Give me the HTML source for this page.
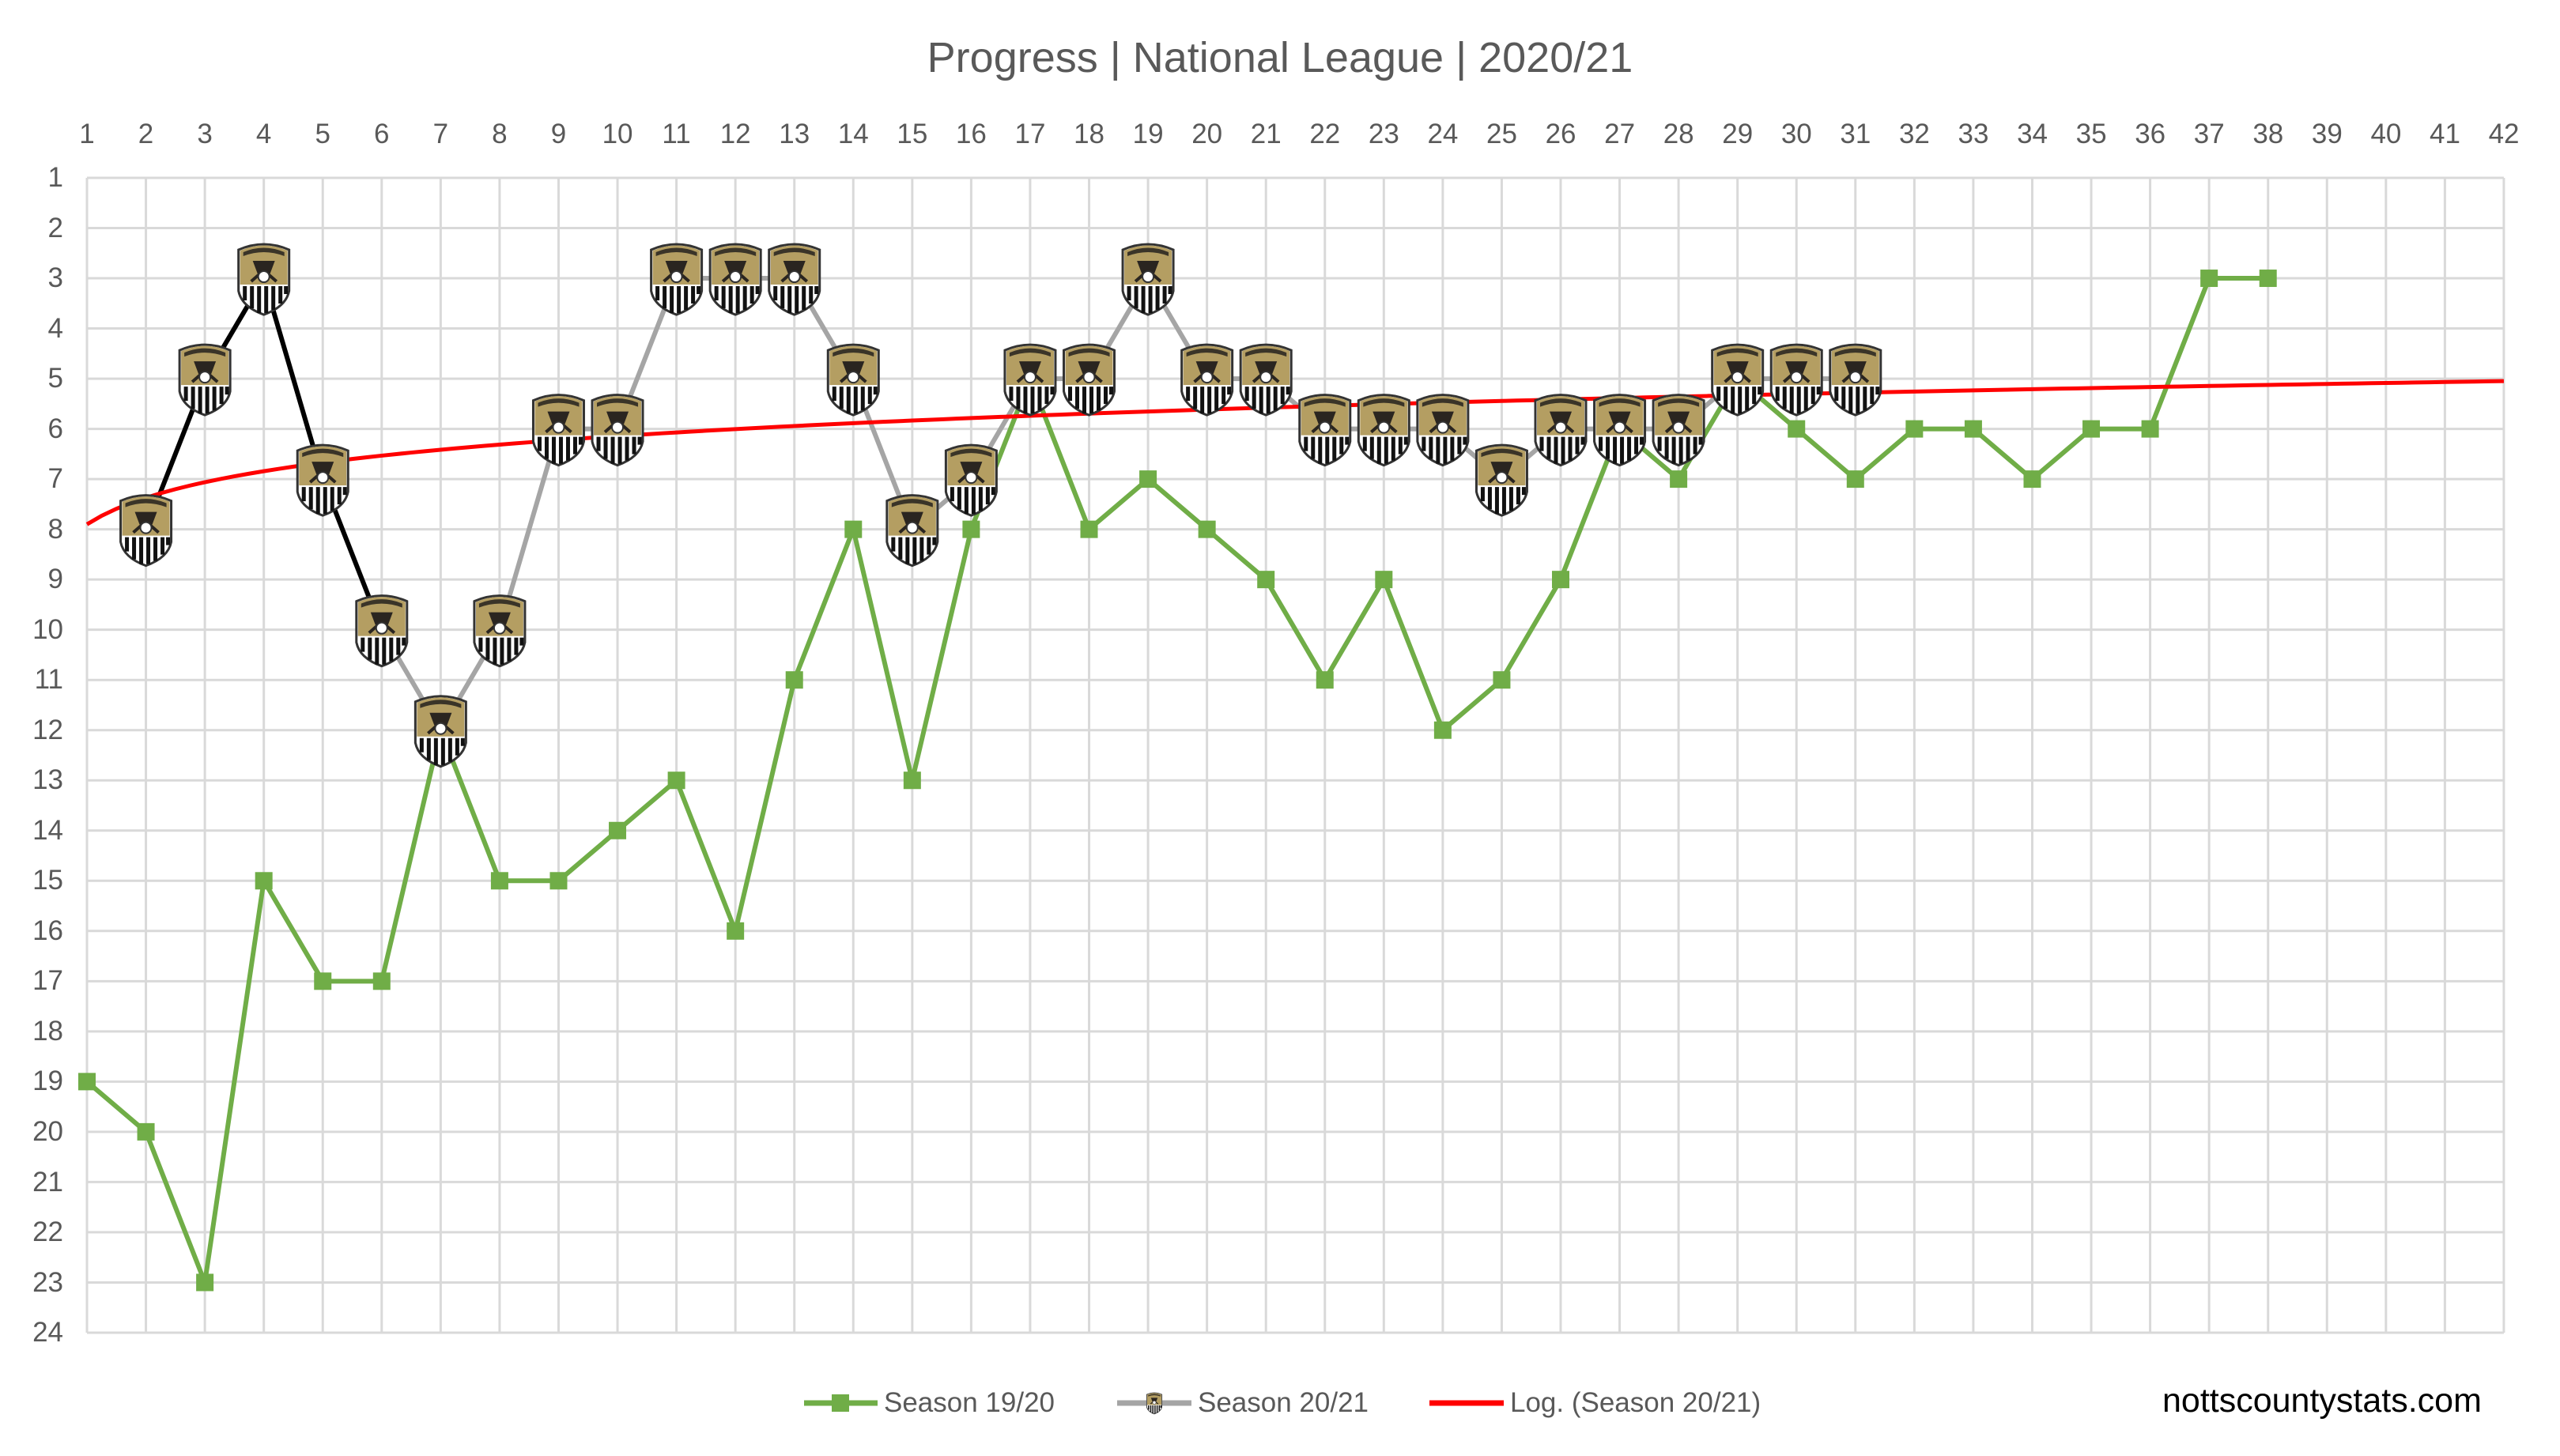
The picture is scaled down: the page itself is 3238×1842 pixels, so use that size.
<!DOCTYPE html>
<html><head><meta charset="utf-8"><style>
html,body{margin:0;padding:0;background:#fff;}
#c{position:relative;width:3238px;height:1842px;overflow:hidden;font-family:"Liberation Sans",sans-serif;color:#595959;}
.t{position:absolute;white-space:nowrap;}
#xl{position:absolute;left:72.7px;top:150px;width:3131.5px;display:flex;font-size:35px;}
#xl div{flex:1;text-align:center;}
#yl{position:absolute;left:20px;top:193.2px;width:60px;display:flex;flex-direction:column;font-size:35px;}
#yl div{height:63.52px;line-height:63.52px;text-align:right;}
</style></head><body><div id="c">
<div class="t" style="left:0;width:3238px;text-align:center;top:42px;font-size:54px;">Progress | National League | 2020/21</div>
<div id="xl"><div>1</div><div>2</div><div>3</div><div>4</div><div>5</div><div>6</div><div>7</div><div>8</div><div>9</div><div>10</div><div>11</div><div>12</div><div>13</div><div>14</div><div>15</div><div>16</div><div>17</div><div>18</div><div>19</div><div>20</div><div>21</div><div>22</div><div>23</div><div>24</div><div>25</div><div>26</div><div>27</div><div>28</div><div>29</div><div>30</div><div>31</div><div>32</div><div>33</div><div>34</div><div>35</div><div>36</div><div>37</div><div>38</div><div>39</div><div>40</div><div>41</div><div>42</div></div>
<div id="yl"><div>1</div><div>2</div><div>3</div><div>4</div><div>5</div><div>6</div><div>7</div><div>8</div><div>9</div><div>10</div><div>11</div><div>12</div><div>13</div><div>14</div><div>15</div><div>16</div><div>17</div><div>18</div><div>19</div><div>20</div><div>21</div><div>22</div><div>23</div><div>24</div></div>
<svg id="s" width="3238" height="1842" style="position:absolute;left:0;top:0">
<defs>
<g id="b">
<path d="M-32,-36 Q0,-50 32,-36 L32,16 Q28,36 0,46 Q-28,36 -32,16 Z" fill="#fff" stroke="#333" stroke-width="3"/>
<path d="M-30,-35 Q0,-48 30,-35 L30,8 L-30,8 Z" fill="#b49e62"/>
<path d="M-26,-33 Q0,-44 26,-33 L26,-28 Q0,-38 -26,-28 Z" fill="#3a3428"/>
<path d="M-24,10 v18 M-15,10 v28 M-6,10 v34 M3,10 v34 M12,10 v30 M21,10 v22 M28,10 v10" stroke="#111" stroke-width="5"/>
<path d="M-14,-22 L14,-22 L8,-6 L-8,-6 Z" fill="#2a2520"/>
<path d="M-16,4 L0,-10 L16,4" stroke="#2a2520" stroke-width="4" fill="none"/>
<circle cx="0" cy="-2" r="7" fill="#fff" stroke="#333" stroke-width="2"/>
</g>
</defs>
<g id="grid" stroke="#d9d9d9" stroke-width="3" fill="none"></g>
<g id="ser"></g>
<line x1="1017" y1="1775" x2="1110" y2="1775" stroke="#70ad47" stroke-width="7"/>
<rect x="1052" y="1764" width="22" height="22" fill="#70ad47"/>
<line x1="1413" y1="1775" x2="1507" y2="1775" stroke="#a5a5a5" stroke-width="7"/>
<use href="#b" transform="translate(1460,1775) scale(0.3)"/>
<line x1="1808" y1="1775" x2="1902" y2="1775" stroke="#ff0000" stroke-width="7"/>
</svg>
<div class="t" style="left:1118px;top:1755px;font-size:35px;">Season 19/20</div>
<div class="t" style="left:1515px;top:1755px;font-size:35px;">Season 20/21</div>
<div class="t" style="left:1910px;top:1755px;font-size:35px;">Log. (Season 20/21)</div>
<div class="t" style="left:2735px;top:1748px;font-size:43px;color:#000;">nottscountystats.com</div>
</div>
<script>
var NS="http://www.w3.org/2000/svg";
function X(i){return 110+74.56*(i-1);}function Y(r){return 225+63.52*(r-1);}
function el(t,a,p){var e=document.createElementNS(NS,t);for(var k in a)e.setAttribute(k,a[k]);p.appendChild(e);return e;}
var g=document.getElementById('grid'),s=document.getElementById('ser');
for(var i=1;i<=42;i++)el('line',{x1:X(i),y1:Y(1),x2:X(i),y2:Y(24)},g);
for(var r=1;r<=24;r++)el('line',{x1:X(1),y1:Y(r),x2:X(42),y2:Y(r)},g);
var a=[19,20,23,15,17,17,12,15,15,14,13,16,11,8,13,8,5,8,7,8,9,11,9,12,11,9,6,7,5,6,7,6,6,7,6,6,3,3];
var b={2:8,3:5,4:3,5:7,6:10,7:12,8:10,9:6,10:6,11:3,12:3,13:3,14:5,15:8,16:7,17:5,18:5,19:3,20:5,21:5,22:6,23:6,24:6,25:7,26:6,27:6,28:6,29:5,30:5,31:5};
var pts=a.map(function(v,k){return X(k+1)+','+Y(v)}).join(' ');
el('polyline',{points:pts,fill:'none',stroke:'#70ad47','stroke-width':6,'stroke-linejoin':'round'},s);
a.forEach(function(v,k){el('rect',{x:X(k+1)-11,y:Y(v)-11,width:22,height:22,fill:'#70ad47'},s);});
for(var i=2;i<31;i++){el('line',{x1:X(i),y1:Y(b[i]),x2:X(i+1),y2:Y(b[i+1]),stroke:i<6?'#000':'#a5a5a5','stroke-width':6},s);}
var d='';for(var x=1;x<=42;x+=0.25){d+=(x==1?'M':'L')+X(x)+','+Y(7.9-0.763*Math.log(x));}
el('path',{d:d,fill:'none',stroke:'#ff0000','stroke-width':5},s);
for(var i=2;i<=31;i++)el('use',{href:'#b',transform:'translate('+X(i)+','+Y(b[i])+')'},s);
</script>
</body></html>
